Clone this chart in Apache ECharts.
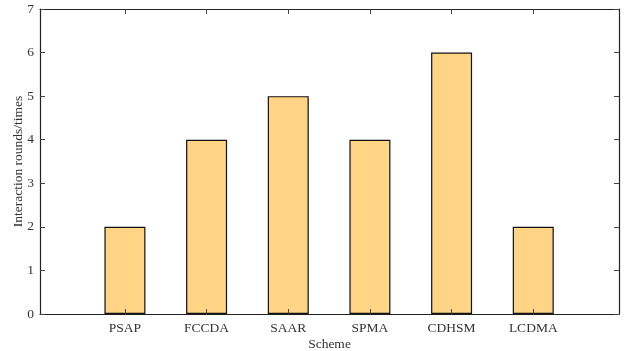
<!DOCTYPE html>
<html><head><meta charset="utf-8">
<script src="https://cdn.jsdelivr.net/npm/echarts@6/dist/echarts.min.js"></script>
<style>html,body{margin:0;padding:0;background:#fff}#c{width:628px;height:351px}</style>
</head><body><div id="c"></div>
<script>
const categories = ["PSAP","FCCDA","SAAR","SPMA","CDHSM","LCDMA"];
const positions = [1,2,3,4,5,6];
const rounds = [2,4,5,4,6,2];
const yTicks = [0,1,2,3,4,5,6,7];

const font = "'Liberation Serif','Times New Roman',serif";
const fs = 13.5;
const chart = echarts.init(document.getElementById('c'));
const axisLine = {show:true, onZero:false, lineStyle:{color:'#222', width:1.2}};
chart.setOption({
  animation:false,
  grid:{left:40, right:9, top:9, bottom:37, containLabel:false, outerBoundsMode:'none'},
  xAxis:[{
    type:'value', min:-0.04, max:7.05, position:'bottom', z:5,
    name:'Scheme', nameLocation:'middle', nameGap:23, nameMoveOverlap:false,
    nameTextStyle:{fontFamily:font, fontSize:fs, color:'#333'},
    axisLine:axisLine,
    axisTick:{show:true, inside:true, length:5, customValues:positions, lineStyle:{color:'#444'}},
    axisLabel:{customValues:positions, fontFamily:font, fontSize:fs, color:'#333', margin:7,
      formatter:v=>categories[positions.indexOf(v)] ?? ''},
    splitLine:{show:false}
  },{
    type:'value', min:-0.04, max:7.05, position:'top', z:5,
    axisLine:axisLine,
    axisTick:{show:true, inside:true, length:5, customValues:positions, lineStyle:{color:'#444'}},
    axisLabel:{show:false}, splitLine:{show:false}
  }],
  yAxis:[{
    type:'value', min:0, max:7, interval:1, position:'left', z:5,
    name:'Interaction rounds/times', nameLocation:'middle', nameGap:15, nameMoveOverlap:false,
    nameTextStyle:{fontFamily:font, fontSize:fs, color:'#333'},
    axisLine:axisLine,
    axisTick:{show:true, inside:true, length:5, lineStyle:{color:'#444'}},
    axisLabel:{fontFamily:font, fontSize:fs, color:'#333', margin:6, customValues:yTicks},
    splitLine:{show:false}
  },{
    type:'value', min:0, max:7, interval:1, position:'right', z:5,
    axisLine:axisLine,
    axisTick:{show:true, inside:true, length:5, lineStyle:{color:'#444'}},
    axisLabel:{show:false}, splitLine:{show:false}
  }],
  series:[{
    type:'bar', xAxisIndex:0, yAxisIndex:0,
    barWidth:41,
    data:positions.map((p,i)=>[p, rounds[i]]),
    itemStyle:{color:'#FFD485', borderColor:'#111', borderWidth:1.2}
  }]
});
</script></body></html>
